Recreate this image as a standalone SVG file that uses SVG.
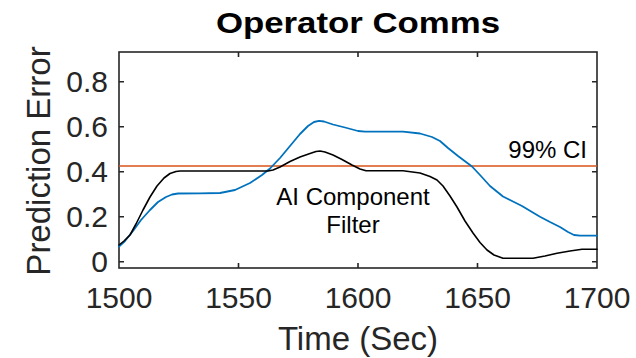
<svg xmlns="http://www.w3.org/2000/svg" width="636" height="358" viewBox="0 0 636 358">
<style>
.tick{font-family:"Liberation Sans",Arial,sans-serif;font-size:30px;fill:#262626}
.lab{font-family:"Liberation Sans",Arial,sans-serif;font-size:33px;fill:#262626}
.ann{font-family:"Liberation Sans",Arial,sans-serif;font-size:24px;fill:#000}
.ax{stroke:#262626;stroke-width:1.6;fill:none}
.curve{fill:none;stroke-linejoin:round;stroke-linecap:round}
</style>
<rect width="636" height="358" fill="#fff"/>
<g id="title">
<text transform="translate(358,33) scale(1.2,1)" x="0" y="0" text-anchor="middle" font-family="'Liberation Sans',Arial,sans-serif" font-size="29" font-weight="bold" fill="#000">Operator Comms</text>
</g>
<g id="axes">
<rect class="ax" x="119" y="52" width="478" height="216"/>
<path class="ax" d="M238.5,52v5M358,52v5M477.5,52v5M238.5,268v-5M358,268v-5M477.5,268v-5M119,261.7h5M119,216.7h5M119,171.7h5M119,126.7h5M119,81.7h5M597,261.7h-5M597,216.7h-5M597,171.7h-5M597,126.7h-5M597,81.7h-5"/>
</g>
<g id="yticks" class="tick" text-anchor="end">
<text x="108" y="92.4">0.8</text>
<text x="108" y="137.4">0.6</text>
<text x="108" y="182.4">0.4</text>
<text x="108" y="227.4">0.2</text>
<text x="108" y="272.4">0</text>
</g>
<g id="xticks" class="tick" text-anchor="middle">
<text x="119" y="308">1500</text>
<text x="238.5" y="308">1550</text>
<text x="358" y="308">1600</text>
<text x="477.5" y="308">1650</text>
<text x="597" y="308">1700</text>
</g>
<g id="labels">
<text class="lab" x="358" y="350" text-anchor="middle">Time (Sec)</text>
<text class="lab" transform="translate(50,161) rotate(-90)" text-anchor="middle">Prediction Error</text>
</g>
<g id="connectors">
<line id="ci" x1="119" y1="166" x2="597" y2="166" stroke="#D95319" stroke-width="1.6"/>
<polyline id="blue" class="curve" stroke="#0072BD" stroke-width="1.8" points="119,246.7 125,241 133,231 141,220 150,210 158,202 166,197 172,194.5 178,193.5 200,193.3 220,193 235,190 250,183 262,175 270,168.5 280,158 290,146 300,134 308,126 314,122 319,120.8 324,121.5 333,124.5 345,127.5 358,131 365,131.7 403,131.7 420,133.5 432,137 440,141 448,148 458,156 466,162 472,166.5 480,175 490,186 503,196.5 512,201 522,206 532,212 540,216.7 550,222 560,227 568,232 574,235 580,235.7 597,235.7"/>
<polyline id="black" class="curve" stroke="#000" stroke-width="1.6" points="119,245 124,241 130,235 136,224 143,210 150,197 157,186 164,178 170,173.5 176,171.5 180,171 268,171 273,170 280,167 290,161.5 300,157 310,153.5 316,151.5 320,151 325,152 333,155 342,159.5 352,165 360,169 366,170.7 403,170.7 420,173 430,176.5 437,180 443,186 450,196 457,207 465,221 473,233 480,242.5 487,250 494,255 503,258.3 533,258.3 545,256 557,253.3 570,251 582,249.3 597,249.3"/>
</g>
<g id="annotations">
<text class="ann" x="587" y="158" text-anchor="end">99% CI</text>
<text class="ann" x="353" y="205" text-anchor="middle">AI Component</text>
<text class="ann" x="353" y="233" text-anchor="middle">Filter</text>
</g>
</svg>
